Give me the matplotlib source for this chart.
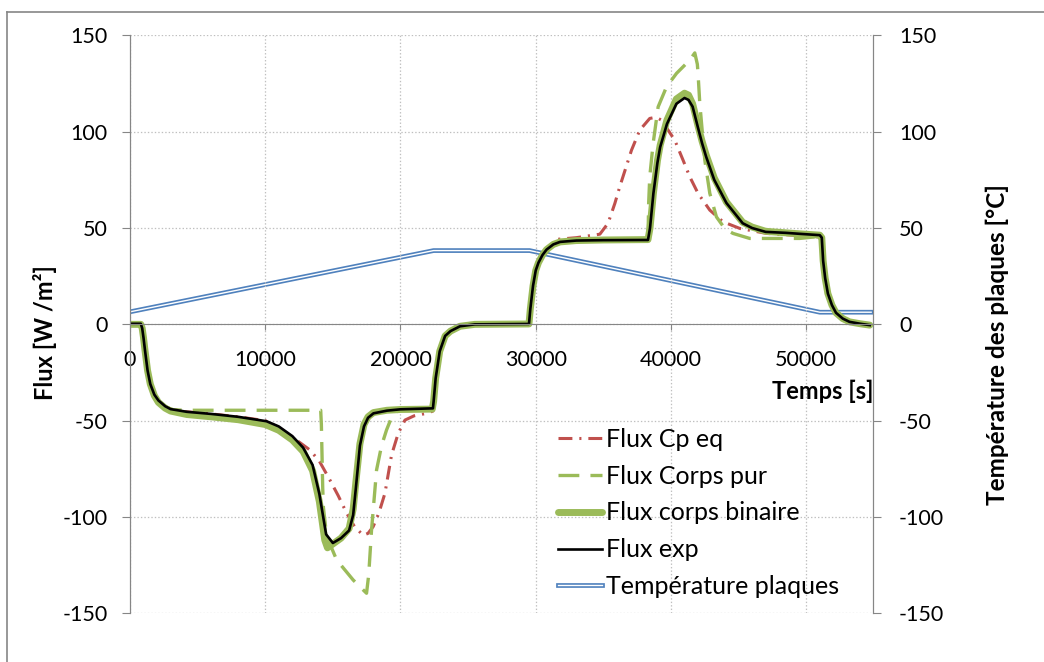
import matplotlib
matplotlib.use("Agg")
import matplotlib.pyplot as plt
import matplotlib.patheffects as pe
from matplotlib.lines import Line2D

plt.rcParams['font.family'] = ['Lato', 'DejaVu Sans']
plt.rcParams['lines.scale_dashes'] = False
plt.rcParams['axes.unicode_minus'] = False

# Flux exp (t [s], q [W/m2])
t_exp = [0, 800, 900, 1000, 1100, 1300, 1500, 1800, 2100, 2600, 3000, 4200, 6000, 8000,
         10100, 11000, 12000, 12800, 13500, 14000, 14500, 15000, 15600, 16200, 16500,
         16700, 17000, 17300, 17600, 18000, 19000, 20000, 22400, 22450, 22600, 22900,
         23300, 23700, 24400, 25500, 29500, 29600, 29800, 30000, 30200, 30500, 30800,
         31300, 31800, 33000, 35000, 38300, 38450, 38700, 39000, 39200, 39700, 40400,
         41000, 41300, 41600, 42000, 42300, 42600, 43200, 44100, 45300, 46000, 47000,
         48500, 49500, 51000, 51150, 51250, 51400, 51600, 51900, 52200, 52700, 53200,
         54000, 54700]
q_exp = [0.3, 0.3, -2, -7, -13, -24, -31, -36.5, -39.5, -42.5, -44, -45.4, -46.5, -48,
         -50.3, -53, -58, -64, -73, -88, -109, -113.5, -111, -107, -99,
         -85, -63, -53, -48.5, -46.2, -44.8, -44.1, -43.6, -40, -28, -14,
         -6, -3.5, -1, 0, 0.2, 8, 20, 28, 32, 36, 38.8,
         41.5, 42.8, 43.5, 43.7, 43.8, 50, 68, 84, 92, 104, 114.5,
         117.5, 116.5, 113, 102, 94, 87, 75, 63, 52.5, 50, 48,
         47.5, 47, 46.3, 45, 33, 24, 16, 10, 6, 3, 1.3,
         0.3, -0.4]

# Flux corps binaire
t_bin = [0, 800, 900, 1000, 1100, 1300, 1500, 1800, 2100, 2600, 3000, 4200, 6000, 8000,
         10000, 11000, 12000, 12800, 13500, 14000, 14400, 14600, 15000, 15600, 16200,
         16500, 16700, 17000, 17300, 17600, 18000, 19000, 20000, 22350, 22450, 22600,
         22900, 23300, 23700, 24400, 25500, 29500, 29600, 29800, 30000, 30200, 30500,
         30800, 31300, 31800, 33000, 35000, 38300, 38450, 38700, 39000, 39200, 39700,
         40400, 41000, 41300, 41600, 42000, 42300, 42600, 43200, 44100, 45300, 46000,
         47000, 48500, 49500, 51000, 51150, 51250, 51400, 51600, 51900, 52200, 52700,
         53200, 54000, 54700]
q_bin = [0, 0, -2, -7, -13, -24, -31, -37, -40.5, -43.5, -45, -46.8, -48, -49.5,
         -52, -55, -60, -66, -76, -92, -112, -116, -114, -111, -106,
         -96, -82, -62, -52, -48, -45.8, -44.6, -44.2, -44, -40, -28,
         -14, -6, -3.5, -1, 0, 0.2, 8, 20, 28, 32, 36,
         38.8, 41.5, 42.8, 43.5, 43.8, 44, 50, 68, 85, 93, 106,
         117, 120, 119, 114.5, 103, 95, 88, 76, 63.5, 53, 50.5,
         48.3, 47.5, 47, 46.3, 45, 33, 24, 16, 10, 6, 3,
         1.3, 0.3, -0.4]

# Flux Corps pur
t_pur = [0, 800, 900, 1000, 1100, 1300, 1500, 1800, 2100, 2600, 3200, 4000, 14100,
         14150, 14250, 14300, 14540, 15280, 16500, 17490, 17650, 17860, 18230, 18600,
         18970, 19460, 20000, 22400, 22450, 22600, 22900, 23300, 23700, 24400, 25500,
         29500, 29600, 29800, 30000, 30200, 30500, 30800, 31300, 31800, 33000, 38300,
         38350, 38430, 38680, 39050, 39670, 40410, 41390, 41760, 41950, 42000, 42130,
         42500, 42870, 43360, 44000, 44590, 45820, 49520, 50750, 51150, 51250, 51400,
         51600, 51900, 52200, 52700, 53200, 54000, 54700]
q_pur = [0, 0, -2, -7, -13, -24, -31, -37, -40.5, -43, -44.3, -44.6, -44.6,
         -52, -85, -95, -110, -122.3, -132.7, -139.6, -130, -106.7, -75.6, -63,
         -54.8, -46.2, -44.3, -43.8, -40, -28, -14, -6, -3.5, -1, 0,
         0.2, 8, 20, 28, 32, 36, 38.8, 41.5, 42.8, 43.5, 43.8,
         63, 76.6, 93.9, 112.9, 123.3, 130.3, 137.2, 140.9, 135, 130.3, 114.7,
         85.3, 68, 55.8, 49.5, 47.2, 44.6, 44.6, 45.5, 45.3, 33, 24,
         16, 10, 6, 3, 1.3, 0.3, -0.4]

# Flux Cp eq
t_cp = [0, 800, 900, 1000, 1100, 1300, 1500, 1800, 2100, 2600, 3000, 4200, 6000, 8000,
        10000, 11090, 12000, 13300, 14000, 14780, 15400, 16020, 16600, 17240, 17600,
        17980, 18400, 18850, 19340, 19830, 20330, 21000, 21930, 22400, 22450, 22600,
        22900, 23300, 23700, 24400, 25500, 29500, 29600, 29800, 30000, 30200, 30500,
        30800, 31300, 31530, 33000, 34740, 35350, 35850, 36210, 37080, 37690, 38430,
        38900, 39300, 40280, 40890, 41390, 42000, 42870, 43850, 45090, 47060, 50750,
        51150, 51250, 51400, 51600, 51900, 52200, 52700, 53200, 54000, 54700]
q_cp = [0, 0, -2, -7, -13, -24, -31, -36.5, -39.5, -42.5, -44, -45.4, -46.5, -48,
        -50, -54, -58.5, -65.2, -71, -80.8, -89, -98, -105, -109.5, -108.5,
        -105, -98, -87.7, -67.8, -56.6, -49.7, -47.5, -46.2, -45, -40, -28,
        -14, -6, -3.5, -1, 0, 0.2, 8, 20, 28, 32, 36,
        38.8, 41.5, 44.1, 45, 46.8, 52.5, 62.8, 71.4, 90.4, 100.8, 106.9,
        107.5, 106, 95.6, 85.3, 76.6, 68, 59.3, 53.2, 49.8, 47.2, 45.5,
        45.3, 33, 24, 16, 10, 6, 3, 1.3, 0.3, -0.4]

# Température plaques [°C]
t_temp = [0, 22450, 29550, 51000, 54800]
T_temp = [6.5, 38.3, 38.3, 6.3, 6.3]

x_ticks = [0, 10000, 20000, 30000, 40000, 50000]
y_ticks = [-150, -100, -50, 0, 50, 100, 150]

RED = '#C0504D'
GREEN = '#9BBB59'
BLUE = '#4F81BD'
GRAY = '#868686'
W, H = 1044, 662

fig = plt.figure(figsize=(W / 100, H / 100), dpi=100)
ax = fig.add_axes([130 / W, 1 - 613.3 / H, (872.5 - 130) / W, (613.3 - 35.4) / H])
ax2 = ax.twinx()
ax.set_zorder(ax2.get_zorder() + 1)
ax.patch.set_visible(False)

h_cp, = ax.plot(t_cp, q_cp, color=RED, lw=2.2, ls=(0, (10, 5, 1.5, 5)),
                label='Flux Cp eq')
h_pur, = ax.plot(t_pur, q_pur, color=GREEN, lw=2.4, ls=(0, (15, 8)),
                 label='Flux Corps pur')
h_bin, = ax.plot(t_bin, q_bin, color=GREEN, lw=5, solid_capstyle='round',
                 label='Flux corps binaire')
h_exp, = ax.plot(t_exp, q_exp, color='black', lw=1.9, label='Flux exp')
h_T, = ax2.plot(t_temp, T_temp, color='white', lw=1.0, label='Température plaques',
                path_effects=[pe.Stroke(linewidth=3.4, foreground=BLUE), pe.Normal()])

for a in (ax, ax2):
    a.set_xlim(0, 54900)
    a.set_ylim(-150, 150)
    a.set_yticks(y_ticks)
    for s in a.spines.values():
        s.set_color(GRAY)
    a.spines['top'].set_visible(False)

ax.spines['bottom'].set_position(('data', 0))
ax2.spines['bottom'].set_visible(False)
ax.set_xticks(x_ticks)
ax.grid(True, color='#BFBFBF', lw=0.9, ls=(0, (1, 1.5)))
ax.tick_params(axis='x', direction='out', length=4.5, color=GRAY, pad=14, labelsize=15.5)
ax.tick_params(axis='y', direction='out', length=6, color=GRAY, pad=10, labelsize=15.5)
ax2.tick_params(axis='y', direction='out', length=6, color=GRAY, pad=13, labelsize=15.5)

fig.text(45 / W, 1 - 333 / H, 'Flux [W /m²]', rotation=90, fontsize=17,
         fontweight='bold', ha='center', va='center')
fig.text(997 / W, 1 - 345 / H, 'Température des plaques [°C]', rotation=90,
         fontsize=17.5, fontweight='bold', ha='center', va='center')
fig.text(874 / W, 1 - 391 / H, 'Temps [s]', fontsize=17, fontweight='bold',
         ha='right', va='center')

ax.legend(handles=[h_cp, h_pur, h_bin, h_exp, h_T], loc='upper left',
          bbox_to_anchor=(558 / W, 1 - 428 / H), bbox_transform=fig.transFigure,
          frameon=False, fontsize=18, handlelength=1.75, handletextpad=0.17,
          labelspacing=0.55, borderpad=0, borderaxespad=0)

# outer chart frame (top and left edges visible)
fig.add_artist(Line2D([7 / W, 1], [1 - 12 / H, 1 - 12 / H], color=GRAY, lw=1.2,
                      transform=fig.transFigure))
fig.add_artist(Line2D([7 / W, 7 / W], [0, 1 - 12 / H], color=GRAY, lw=1.2,
                      transform=fig.transFigure))

fig.savefig('out.png', dpi=100)
